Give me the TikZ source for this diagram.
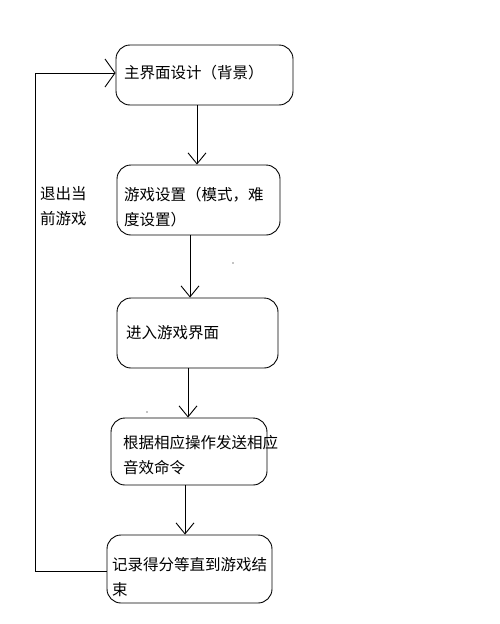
\documentclass[tikz,border=0pt]{standalone}
\usepackage{fontspec}
\setmainfont{Noto Sans CJK SC}
\usetikzlibrary{arrows.meta}
\begin{document}
\begin{tikzpicture}[x=1pt,y=-1pt,
  box/.style={draw,line width=0.9pt,rounded corners=14pt,inner sep=0pt},
  txt/.style={anchor=west,inner sep=0pt,font=\fontsize{15.5}{25}\selectfont,align=left},
  arr/.style={line width=0.9pt,-{Straight Barb[length=11pt,width=18pt,line width=0.9pt]}},
  arrl/.style={line width=0.9pt,-{Straight Barb[length=10pt,width=28pt,line width=0.9pt]}},
  ln/.style={line width=0.9pt}]
\useasboundingbox (0,0) rectangle (500,624);
\node[box,minimum width=177pt,minimum height=60pt] (b1) at (204.5,75) {};
\node[box,minimum width=163pt,minimum height=70pt] (b2) at (198.5,200) {};
\node[box,minimum width=161pt,minimum height=70pt] (b3) at (197.5,333) {};
\node[box,minimum width=156pt,minimum height=67pt] (b4) at (189,451.5) {};
\node[box,minimum width=165pt,minimum height=68pt] (b5) at (189.5,569) {};
\node[txt] (t1) at (124,73) {主界面设计（背景）};
\node[txt] (t2) at (124,207.5) {游戏设置（模式，难\\度设置）};
\node[txt] (t3) at (126,333) {进入游戏界面};
\node[txt] (t4) at (123,455.5) {根据相应操作发送相应\\音效命令};
\node[txt] (t5) at (112,577.5) {记录得分等直到游戏结\\束};
\node[txt] (lab) at (40,206.5) {退出当\\前游戏};
\draw[arr] (b1.south -| 197,0) -- (b2.north -| 197,0);
\draw[arr] (b2.south -| 190,0) -- (b3.north -| 190,0);
\draw[arr] (b3.south -| 188,0) -- (b4.north -| 188,0);
\draw[arr] (b4.south -| 185,0) -- (b5.north -| 185,0);
\coordinate (c1) at (35,571);
\coordinate (c2) at (35,73);
\draw[ln] (b5.west |- 0,571) -- (c1) -- (c2);
\draw[arrl] (c2) -- (b1.west |- 0,73);
\fill (233,263) circle (0.7);
\fill (147,412) circle (0.7);
\end{tikzpicture}
\end{document}
